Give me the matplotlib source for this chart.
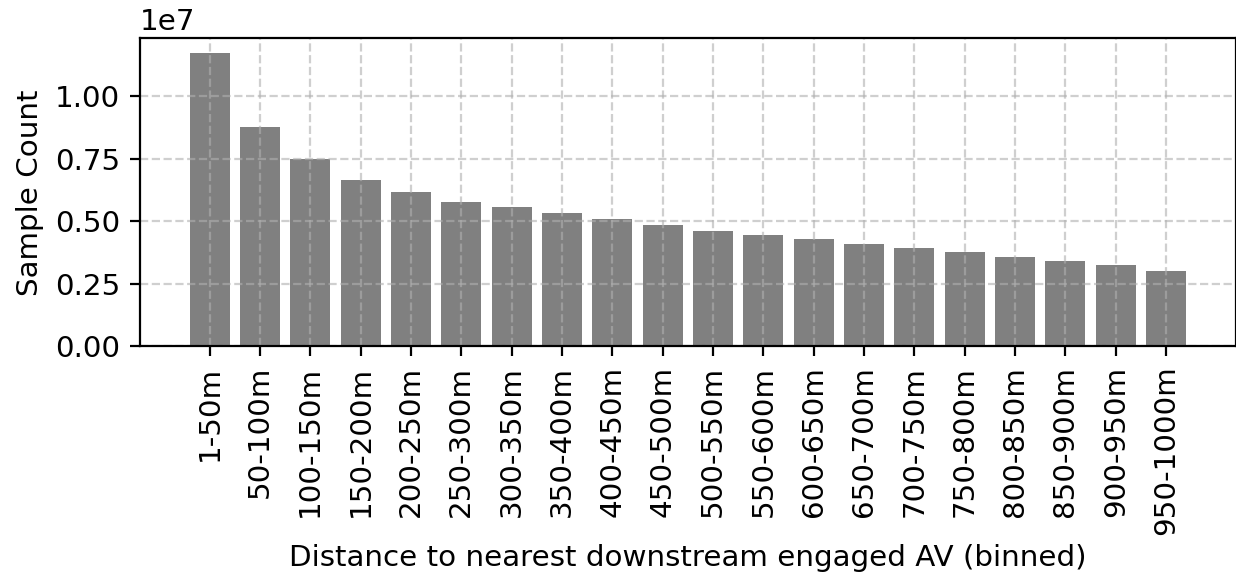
import numpy as np
import matplotlib.pyplot as plt

# Distance bins and sample counts (in units of 1e7)
bins = ['1-50m', '50-100m', '100-150m', '150-200m', '200-250m', '250-300m',
        '300-350m', '350-400m', '400-450m', '450-500m', '500-550m', '550-600m',
        '600-650m', '650-700m', '700-750m', '750-800m', '800-850m', '850-900m',
        '900-950m', '950-1000m']
counts = [1.174, 0.877, 0.748, 0.667, 0.617, 0.579, 0.558, 0.533, 0.508, 0.486,
          0.463, 0.447, 0.430, 0.409, 0.395, 0.379, 0.358, 0.342, 0.325, 0.303]
counts = np.array(counts) * 1e7

plt.rcParams['font.size'] = 10.6
fig, ax = plt.subplots(figsize=(6.18, 2.9), dpi=200)
fig.subplots_adjust(left=0.113, right=1.0, top=0.934, bottom=0.403)

x = np.arange(len(bins))
ax.bar(x, counts, color='gray')
ax.set_xticks(x)
ax.set_xticklabels(bins, rotation=90)
ax.set_xlabel('Distance to nearest downstream engaged AV (binned)', labelpad=3)
ax.set_ylabel('Sample Count')
ax.grid(True, linestyle='--', alpha=0.6)

plt.savefig('out.png')
